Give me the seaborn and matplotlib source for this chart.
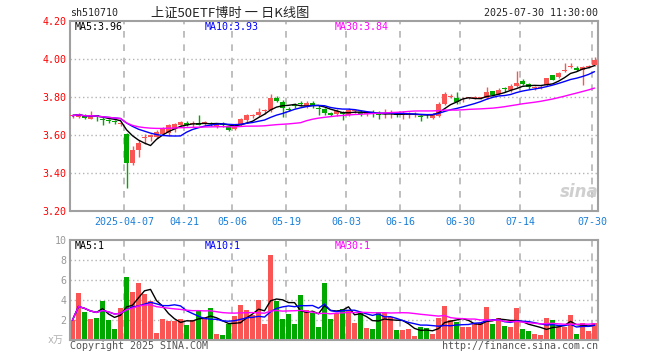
import numpy as np
import pandas as pd
import matplotlib
matplotlib.use("Agg")
import matplotlib.pyplot as plt
import seaborn as sns


dates = ["03-24", "03-25", "03-26", "03-27", "03-28", "03-31",
         "04-01", "04-02", "04-03", "04-07", "04-08", "04-09", "04-10", "04-11",
         "04-14", "04-15", "04-16", "04-17", "04-18", "04-21", "04-22", "04-23",
         "04-24", "04-25", "04-28", "04-29", "04-30",
         "05-06", "05-07", "05-08", "05-09", "05-12", "05-13", "05-14", "05-15",
         "05-16", "05-19", "05-20", "05-21", "05-22", "05-23", "05-26", "05-27",
         "05-28", "05-29", "05-30",
         "06-03", "06-04", "06-05", "06-06", "06-09", "06-10", "06-11", "06-12",
         "06-13", "06-16", "06-17", "06-18", "06-19", "06-20", "06-23", "06-24",
         "06-25", "06-26", "06-27", "06-30",
         "07-01", "07-02", "07-03", "07-04", "07-07", "07-08", "07-09", "07-10",
         "07-11", "07-14", "07-15", "07-16", "07-17", "07-18", "07-21", "07-22",
         "07-23", "07-24", "07-25", "07-28", "07-29", "07-30"]

opens = [3.698, 3.694, 3.707, 3.686, 3.703, 3.682, 3.677, 3.670, 3.657, 3.604,
         3.454, 3.521, 3.584, 3.588, 3.592, 3.606, 3.609, 3.631, 3.653, 3.665,
         3.658, 3.664, 3.659, 3.662, 3.645, 3.660, 3.647, 3.634, 3.656, 3.679,
         3.701, 3.705, 3.726, 3.732, 3.796, 3.775, 3.737, 3.757, 3.765, 3.754,
         3.770, 3.743, 3.735, 3.717, 3.710, 3.720, 3.706, 3.724, 3.720, 3.712,
         3.712, 3.711, 3.708, 3.708, 3.712, 3.706, 3.707, 3.706, 3.700, 3.706,
         3.690, 3.700, 3.765, 3.800, 3.797, 3.787, 3.793, 3.795, 3.795, 3.796,
         3.832, 3.816, 3.844, 3.837, 3.858, 3.885, 3.870, 3.845, 3.850, 3.863,
         3.916, 3.904, 3.936, 3.960, 3.954, 3.942, 3.960, 3.968]

highs = [3.712, 3.718, 3.710, 3.726, 3.706, 3.700, 3.686, 3.677, 3.670, 3.608,
         3.540, 3.574, 3.605, 3.607, 3.625, 3.640, 3.660, 3.665, 3.672, 3.672,
         3.672, 3.705, 3.675, 3.668, 3.664, 3.666, 3.650, 3.648, 3.691, 3.713,
         3.712, 3.740, 3.735, 3.816, 3.806, 3.784, 3.749, 3.768, 3.780, 3.780,
         3.778, 3.756, 3.740, 3.720, 3.735, 3.725, 3.740, 3.737, 3.730, 3.726,
         3.732, 3.725, 3.737, 3.734, 3.723, 3.726, 3.720, 3.719, 3.703, 3.713,
         3.716, 3.775, 3.828, 3.818, 3.828, 3.800, 3.800, 3.803, 3.802, 3.855,
         3.834, 3.846, 3.853, 3.868, 3.939, 3.893, 3.875, 3.858, 3.865, 3.900,
         3.918, 3.932, 3.977, 3.977, 3.962, 3.964, 3.970, 4.012]

lows = [3.688, 3.688, 3.684, 3.682, 3.675, 3.654, 3.662, 3.660, 3.645, 3.319,
        3.440, 3.482, 3.555, 3.571, 3.585, 3.600, 3.593, 3.616, 3.645, 3.645,
        3.640, 3.652, 3.650, 3.648, 3.637, 3.642, 3.620, 3.628, 3.647, 3.665,
        3.688, 3.700, 3.708, 3.723, 3.774, 3.695, 3.727, 3.742, 3.752, 3.741,
        3.741, 3.706, 3.706, 3.700, 3.700, 3.680, 3.698, 3.715, 3.702, 3.700,
        3.696, 3.684, 3.690, 3.690, 3.693, 3.686, 3.692, 3.697, 3.675, 3.690,
        3.686, 3.695, 3.760, 3.795, 3.765, 3.775, 3.787, 3.788, 3.790, 3.788,
        3.804, 3.808, 3.825, 3.828, 3.853, 3.865, 3.842, 3.838, 3.843, 3.860,
        3.888, 3.900, 3.930, 3.953, 3.935, 3.862, 3.955, 3.965]

closes = [3.702, 3.711, 3.690, 3.702, 3.693, 3.678, 3.674, 3.667, 3.664, 3.454,
          3.521, 3.560, 3.588, 3.600, 3.617, 3.632, 3.652, 3.658, 3.669, 3.651,
          3.662, 3.655, 3.669, 3.657, 3.660, 3.654, 3.626, 3.643, 3.684, 3.705,
          3.704, 3.723, 3.731, 3.796, 3.780, 3.740, 3.734, 3.754, 3.762, 3.771,
          3.755, 3.735, 3.714, 3.705, 3.727, 3.708, 3.731, 3.728, 3.709, 3.718,
          3.708, 3.706, 3.712, 3.712, 3.707, 3.710, 3.710, 3.709, 3.696, 3.703,
          3.712, 3.763, 3.817, 3.803, 3.772, 3.791, 3.797, 3.798, 3.799, 3.828,
          3.811, 3.837, 3.840, 3.858, 3.875, 3.870, 3.855, 3.848, 3.853, 3.898,
          3.890, 3.928, 3.940, 3.964, 3.943, 3.960, 3.963, 3.996]

volumes = [2.0, 4.7, 2.8, 2.1, 2.2, 3.9, 2.0, 1.1, 3.2, 6.3,
           4.8, 5.7, 4.6, 3.9, 0.7, 2.1, 1.95, 1.95, 2.1, 1.5,
           2.0, 3.0, 2.3, 3.2, 0.6, 0.55, 1.6, 2.4, 3.5, 3.0,
           2.5, 4.0, 1.6, 8.5, 3.9, 2.1, 2.6, 1.6, 4.5, 3.0,
           2.7, 1.3, 5.7, 2.1, 2.7, 3.1, 3.0, 1.7, 2.7, 1.2,
           1.1, 2.8, 2.7, 2.3, 1.0, 1.0, 1.1, 0.4, 1.3, 1.2,
           0.6, 2.2, 3.4, 2.0, 1.8, 1.3, 1.3, 1.7, 1.7, 3.3,
           1.6, 2.2, 1.4, 1.3, 3.2, 1.1, 0.9, 0.6, 0.5, 2.2,
           2.0, 1.3, 1.3, 2.5, 0.6, 1.7, 0.9, 1.7]

tick_dates = ["04-07", "04-21", "05-06", "05-19", "06-03", "06-16", "06-30", "07-14", "07-30"]
tick_labels = ["2025-04-07", "04-21", "05-06", "05-19", "06-03", "06-16", "06-30", "07-14", "07-30"]
price_ticks = [3.20, 3.40, 3.60, 3.80, 4.00, 4.20]
vol_ticks = [2, 4, 6, 8, 10]

ma_windows = [5, 10, 30]
price_ma_text = ["MA5:3.96", "MA10:3.93", "MA30:3.84"]
vol_ma_text = ["MA5:1", "MA10:1", "MA30:1"]

RED = "#fa5555"
GREEN = "#00a800"
MA_COLORS = ["black", "#0000ff", "#ff00ff"]
GRID = "#b4b4b4"
FRAME = "#a0a0a0"
BLUE_TXT = "#1a7fd8"

sns.set_theme(style="white")
plt.rcParams["font.family"] = ["DejaVu Sans Mono", "Noto Sans CJK SC"]

df = pd.DataFrame({"date": dates, "open": opens, "high": highs, "low": lows,
                   "close": closes, "vol": volumes})
df["idx"] = np.arange(len(df))
df["dir"] = np.where(df["close"] >= df["open"], "up", "down")
colors = df["dir"].map({"up": RED, "down": GREEN})

fig = plt.figure(figsize=(6.6, 3.6), dpi=100)
ax = fig.add_axes([70 / 660, 1 - 211 / 360, 528 / 660, 190 / 360])
axv = fig.add_axes([70 / 660, 1 - 340 / 360, 528 / 660, 100 / 360])

xlim = (-0.42, len(df) - 0.42)
grid_x = [dates.index(d) - 0.37 for d in tick_dates]

# price panel: candles
ax.vlines(df["idx"], df["low"], df["high"], colors=colors, lw=1, zorder=2)
body_lo = df[["open", "close"]].min(axis=1)
body_h = (df["close"] - df["open"]).abs().clip(lower=0.005)
ax.bar(df["idx"], body_h, bottom=body_lo, width=0.8, color=colors, lw=0, zorder=3)

for w, c in zip(ma_windows, MA_COLORS):
    ma = df["close"].rolling(w, min_periods=1).mean()
    sns.lineplot(x=df["idx"], y=ma, color=c, lw=1.0, ax=ax, zorder=4)

# volume panel
sns.barplot(data=df, x="idx", y="vol", hue="dir", palette={"up": RED, "down": GREEN},
            native_scale=True, dodge=False, width=0.83, saturation=1, errorbar=None,
            legend=False, linewidth=0, ax=axv, zorder=2)
for w, c in zip(ma_windows, MA_COLORS):
    ma = df["vol"].rolling(w, min_periods=1).mean()
    sns.lineplot(x=df["idx"], y=ma, color=c, lw=1.0, ax=axv, zorder=4)

for a, hlines in [(ax, price_ticks[1:-1]), (axv, vol_ticks[:-1])]:
    a.set_xlim(*xlim)
    for y in hlines:
        a.axhline(y, color=GRID, ls=(0, (1, 2)), lw=1, zorder=0)
    for x in grid_x:
        a.axvline(x, color=GRID, ls=(0, (4, 4)), lw=1.2, zorder=0)
    for s in a.spines.values():
        s.set_color(FRAME)
        s.set_linewidth(1.5)
    a.set_xlabel("")
    a.set_ylabel("")

ax.set_ylim(3.20, 4.20)
ax.set_yticks(price_ticks, [f"{p:.2f}" for p in price_ticks])
ax.set_xticks(grid_x, tick_labels)
ax.tick_params(axis="x", length=0, pad=4, labelsize=7.2, labelcolor=BLUE_TXT)
ax.tick_params(axis="y", length=0, pad=2.5, labelsize=7.2, labelcolor="red")

axv.set_ylim(0, 10)
axv.set_yticks(vol_ticks, [str(v) for v in vol_ticks])
axv.set_xticks([])
axv.tick_params(axis="y", length=0, pad=2.5, labelsize=7.2, labelcolor="#999999")
axv.text(-0.012, 0.0, "x万", transform=axv.transAxes, ha="right", va="center",
         fontsize=7.2, color="#b0b0b0")

for txt, xf, c in zip(price_ma_text, [0.0095, 0.2557, 0.502], MA_COLORS):
    ax.text(xf, 0.968, txt, transform=ax.transAxes, ha="left", va="center",
            fontsize=7.2, color=c)
for txt, xf, c in zip(vol_ma_text, [0.0095, 0.2557, 0.502], MA_COLORS):
    axv.text(xf, 0.943, txt, transform=axv.transAxes, ha="left", va="center",
             fontsize=7.2, color=c)

ax.text(0.965, 0.1, "sina", transform=ax.transAxes, ha="center", va="center",
        fontsize=12, fontstyle="italic", fontweight="bold", color="#cfcfcf",
        family="DejaVu Sans", zorder=1)

fig.text(70 / 660, 1 - 13 / 360, "sh510710", ha="left", va="center", fontsize=7.2)
fig.text(230 / 660, 1 - 13 / 360, "上证50ETF博时 一 日K线图", ha="center", va="center",
         fontsize=9.5, family=["Noto Sans CJK SC", "DejaVu Sans"])
fig.text(598 / 660, 1 - 13 / 360, "2025-07-30 11:30:00", ha="right", va="center", fontsize=7.2)
fig.text(70 / 660, 1 - 346 / 360, "Copyright 2025 SINA.COM", ha="left", va="center",
         fontsize=7.2, color="#555555")
fig.text(598 / 660, 1 - 346 / 360, "http://finance.sina.com.cn", ha="right", va="center",
         fontsize=7.2, color="#555555")

fig.savefig("out.png", dpi=100, facecolor="white")
